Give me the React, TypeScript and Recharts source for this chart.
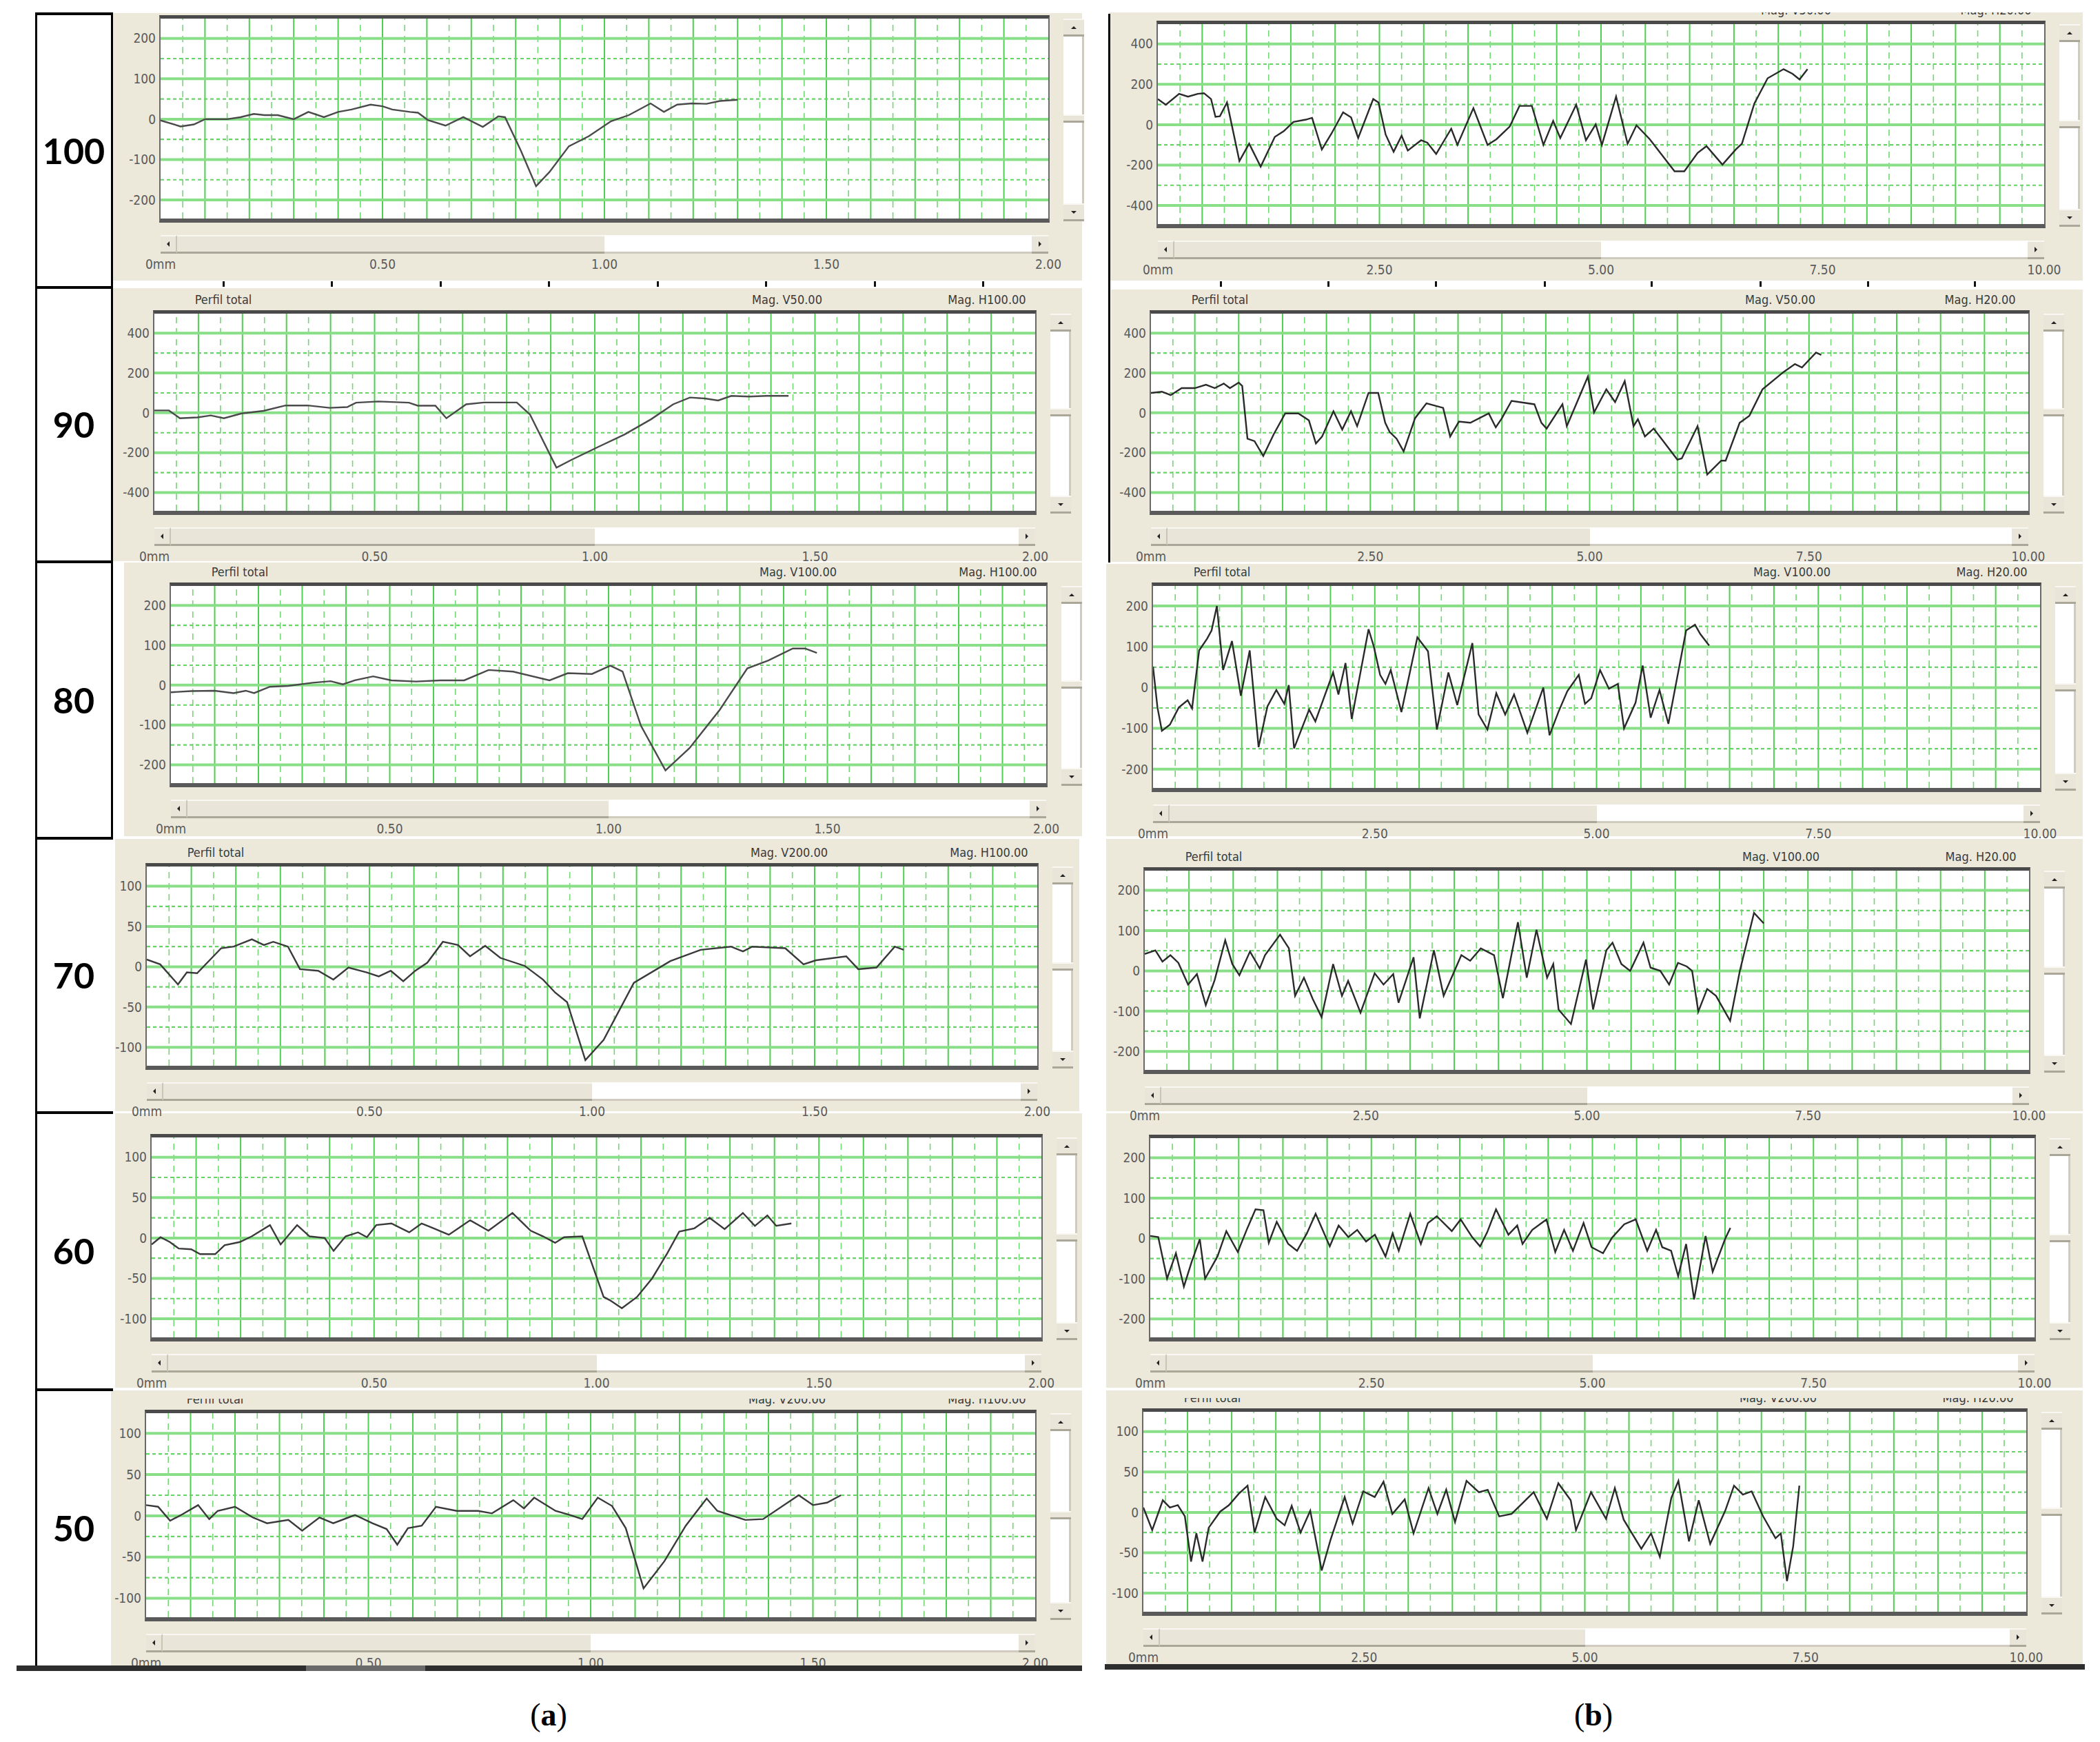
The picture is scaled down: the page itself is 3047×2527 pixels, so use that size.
import React from "react"
import { LineChart, Line, XAxis, YAxis, ReferenceLine } from "recharts"

type Pt = [number, number]

// (a) profiles: position (mm) / height, 0–2 mm scans
const a100: Pt[] = [
  [0, -3], [0.045, -18], [0.075, -13], [0.1, 0], [0.15, 0], [0.18, 5], [0.21, 13], [0.234, 10], [0.264, 10],
  [0.3, 0], [0.333, 18], [0.368, 5], [0.4, 18], [0.43, 24], [0.473, 36], [0.5, 32], [0.522, 24], [0.562, 18],
  [0.58, 16], [0.602, -2], [0.642, -16], [0.682, 5], [0.726, -19], [0.761, 7], [0.776, 5], [0.811, -76],
  [0.846, -166], [0.876, -131], [0.92, -67], [0.965, -42], [1.015, -5], [1.055, 10], [1.104, 39], [1.134, 18],
  [1.164, 36], [1.197, 39], [1.23, 38], [1.26, 45], [1.3, 48],
]
const a90: Pt[] = [
  [0, 12], [0.033, 12], [0.058, -27], [0.098, -23], [0.128, -13], [0.158, -27], [0.198, -3], [0.248, 10],
  [0.298, 37], [0.348, 37], [0.398, 25], [0.438, 29], [0.458, 51], [0.508, 57], [0.578, 51], [0.598, 36],
  [0.638, 36], [0.663, -27], [0.708, 43], [0.748, 52], [0.823, 52], [0.853, -9], [0.913, -275], [0.948, -235],
  [1.008, -171], [1.068, -108], [1.128, -32], [1.178, 43], [1.216, 77], [1.25, 72], [1.28, 62], [1.31, 85],
  [1.35, 82], [1.39, 85], [1.44, 85],
]
const a80: Pt[] = [
  [0, -18], [0.046, -15], [0.1, -14], [0.143, -20], [0.171, -14], [0.19, -20], [0.226, -4], [0.268, -2],
  [0.324, 6], [0.365, 10], [0.393, 2], [0.42, 12], [0.462, 22], [0.504, 12], [0.56, 9], [0.615, 12], [0.67, 12],
  [0.726, 38], [0.782, 34], [0.865, 12], [0.907, 30], [0.962, 28], [1.004, 49], [1.032, 34], [1.074, -102],
  [1.13, -214], [1.185, -158], [1.254, -62], [1.317, 42], [1.365, 62], [1.421, 92], [1.449, 92], [1.476, 81],
]
const a70: Pt[] = [
  [0, 9], [0.03, 3], [0.07, -22], [0.09, -7], [0.113, -8], [0.167, 23], [0.195, 25], [0.236, 34], [0.263, 27],
  [0.284, 31], [0.317, 25], [0.344, -3], [0.385, -5], [0.419, -16], [0.453, -1], [0.494, -7], [0.521, -12],
  [0.548, -5], [0.576, -18], [0.603, -5], [0.63, 5], [0.665, 31], [0.699, 27], [0.726, 13], [0.76, 26],
  [0.794, 11], [0.849, 1], [0.89, -16], [0.917, -32], [0.944, -44], [0.985, -116], [1.026, -91], [1.094, -20],
  [1.176, 7], [1.244, 21], [1.312, 25], [1.339, 19], [1.36, 25], [1.434, 23], [1.475, 3], [1.503, 8],
  [1.571, 13], [1.598, -3], [1.639, -1], [1.68, 25], [1.7, 21],
]
const a60: Pt[] = [
  [0, -8], [0.02, 1], [0.041, -5], [0.061, -13], [0.089, -14], [0.109, -20], [0.143, -20], [0.164, -9],
  [0.198, -5], [0.225, 2], [0.266, 16], [0.29, -8], [0.327, 16], [0.355, 2], [0.389, 0], [0.409, -16],
  [0.436, 2], [0.464, 7], [0.484, 1], [0.505, 16], [0.539, 18], [0.579, 7], [0.607, 18], [0.634, 12],
  [0.668, 4], [0.716, 22], [0.757, 9], [0.811, 31], [0.852, 9], [0.88, 2], [0.907, -6], [0.927, 1], [0.968, 2],
  [1.016, -73], [1.03, -77], [1.057, -87], [1.091, -73], [1.125, -50], [1.159, -19], [1.186, 8], [1.22, 12],
  [1.254, 25], [1.288, 11], [1.329, 31], [1.356, 15], [1.384, 28], [1.404, 15], [1.438, 18],
]
const a50: Pt[] = [
  [0, 13], [0.027, 11], [0.054, -6], [0.082, 2], [0.117, 13], [0.142, -4], [0.161, 6], [0.2, 11], [0.24, -2],
  [0.272, -9], [0.32, -5], [0.351, -18], [0.39, -2], [0.421, -9], [0.47, 1], [0.509, -9], [0.541, -16],
  [0.565, -35], [0.589, -15], [0.62, -12], [0.652, 11], [0.699, 6], [0.747, 6], [0.778, 3], [0.826, 19],
  [0.85, 9], [0.873, 22], [0.921, 6], [0.953, 1], [0.981, -4], [1.016, 22], [1.048, 12], [1.079, -15],
  [1.119, -88], [1.166, -55], [1.214, -12], [1.261, 21], [1.285, 6], [1.348, -5], [1.388, -4], [1.468, 25],
  [1.5, 13], [1.532, 16], [1.563, 25],
]

// (b) profiles: position (mm) / height, 0–10 mm scans
const b100: Pt[] = [
  [0, 127], [0.09, 99], [0.24, 153], [0.34, 139], [0.45, 153], [0.52, 156], [0.6, 127], [0.65, 39], [0.7, 42],
  [0.78, 110], [0.92, -180], [1.03, -94], [1.16, -208], [1.32, -60], [1.42, -32], [1.53, 14], [1.67, 25],
  [1.74, 34], [1.85, -123], [1.96, -43], [2.09, 61], [2.18, 36], [2.26, -66], [2.43, 127], [2.49, 110],
  [2.57, -49], [2.66, -134], [2.75, -55], [2.82, -128], [2.97, -77], [3.04, -89], [3.14, -145], [3.31, -20],
  [3.38, -100], [3.56, 82], [3.72, -100], [3.82, -72], [3.97, -9], [4.08, 93], [4.22, 93], [4.35, -100],
  [4.46, 19], [4.54, -66], [4.72, 99], [4.83, -77], [4.94, 2], [5.01, -100], [5.17, 139], [5.3, -94],
  [5.4, -3], [5.55, -72], [5.83, -231], [5.94, -231], [6.09, -140], [6.19, -106], [6.37, -198], [6.52, -123],
  [6.59, -94], [6.73, 105], [6.88, 230], [7.06, 275], [7.16, 252], [7.24, 224], [7.33, 275],
]
const b90: Pt[] = [
  [0, 100], [0.125, 106], [0.225, 89], [0.35, 124], [0.5, 124], [0.627, 141], [0.727, 124], [0.83, 147],
  [0.9, 124], [1.0, 152], [1.04, 135], [1.1, -130], [1.18, -142], [1.28, -217], [1.4, -107], [1.53, -3],
  [1.68, -3], [1.8, -38], [1.88, -154], [1.95, -119], [2.08, 8], [2.18, -84], [2.28, 8], [2.35, -67],
  [2.48, 100], [2.59, 100], [2.67, -50], [2.72, -96], [2.8, -130], [2.88, -194], [3.01, -27], [3.14, 48],
  [3.33, 25], [3.41, -119], [3.51, -44], [3.64, -50], [3.85, -3], [3.93, -73], [4.0, -27], [4.11, 60],
  [4.37, 43], [4.45, -50], [4.51, -79], [4.69, 43], [4.74, -67], [4.98, 182], [5.05, 2], [5.19, 118],
  [5.29, 54], [5.4, 159], [5.5, -67], [5.55, -32], [5.63, -119], [5.73, -79], [6.0, -235], [6.05, -229],
  [6.23, -67], [6.34, -310], [6.5, -240], [6.55, -240], [6.71, -50], [6.82, -15], [6.97, 118], [7.21, 205],
  [7.34, 245], [7.42, 228], [7.58, 303], [7.64, 291],
]
const b80: Pt[] = [
  [0, 51], [0.05, -49], [0.1, -106], [0.19, -91], [0.29, -49], [0.39, -31], [0.44, -51], [0.52, 91],
  [0.61, 120], [0.66, 140], [0.72, 200], [0.79, 43], [0.89, 114], [0.99, -20], [1.09, 91], [1.19, -146],
  [1.29, -46], [1.39, -6], [1.48, -40], [1.53, 6], [1.59, -149], [1.76, -54], [1.83, -83], [2.03, 37],
  [2.09, -17], [2.17, 60], [2.24, -77], [2.43, 143], [2.49, 100], [2.56, 31], [2.62, 9], [2.68, 43],
  [2.8, -60], [2.98, 123], [3.1, 89], [3.2, -103], [3.33, 37], [3.43, -43], [3.6, 109], [3.67, -66],
  [3.77, -103], [3.87, -14], [3.97, -66], [4.07, -17], [4.22, -111], [4.4, 0], [4.47, -117], [4.57, -60],
  [4.67, -9], [4.8, 31], [4.87, -40], [4.94, -26], [5.04, 43], [5.14, -3], [5.24, 9], [5.31, -100],
  [5.44, -37], [5.52, 54], [5.61, -74], [5.71, -6], [5.81, -89], [6.01, 140], [6.11, 154], [6.17, 131],
  [6.27, 103],
]
const b70: Pt[] = [
  [0, 42], [0.12, 51], [0.2, 23], [0.29, 39], [0.38, 20], [0.49, -34], [0.59, -8], [0.69, -85], [0.79, -23],
  [0.91, 76], [0.99, 17], [1.07, -11], [1.19, 48], [1.3, 6], [1.36, 39], [1.53, 90], [1.63, 56], [1.7, -62],
  [1.8, -17], [1.9, -70], [2.0, -115], [2.13, 17], [2.23, -62], [2.3, -25], [2.44, -104], [2.6, -6],
  [2.7, -34], [2.81, -8], [2.87, -79], [3.04, 34], [3.11, -118], [3.27, 51], [3.38, -62], [3.58, 39],
  [3.68, 25], [3.8, 56], [3.95, 39], [4.05, -68], [4.22, 121], [4.32, -17], [4.43, 102], [4.55, -17],
  [4.62, 17], [4.68, -96], [4.82, -132], [4.99, 28], [5.07, -96], [5.22, 51], [5.29, 70], [5.39, 17],
  [5.49, 0], [5.64, 70], [5.72, 8], [5.83, 0], [5.93, -34], [6.03, 20], [6.13, 11], [6.19, 0], [6.26, -101],
  [6.36, -45], [6.46, -62], [6.62, -124], [6.73, 0], [6.89, 144], [7.0, 118],
]
const b60: Pt[] = [
  [0, 6], [0.09, 3], [0.19, -100], [0.29, -37], [0.38, -120], [0.47, -57], [0.56, -2], [0.62, -100],
  [0.76, -45], [0.86, 18], [0.99, -34], [1.09, 21], [1.19, 72], [1.28, 70], [1.34, -11], [1.43, 41],
  [1.56, -14], [1.66, -31], [1.77, 12], [1.87, 61], [2.03, -20], [2.13, 32], [2.24, 3], [2.34, 21],
  [2.44, -8], [2.54, 9], [2.66, -45], [2.74, 12], [2.81, -31], [2.94, 61], [3.06, -14], [3.14, 38],
  [3.24, 55], [3.41, 18], [3.51, 47], [3.64, 3], [3.73, -20], [3.81, 15], [3.91, 72], [4.05, 9], [4.15, 32],
  [4.21, -14], [4.32, 21], [4.48, 47], [4.58, -34], [4.68, 21], [4.78, -31], [4.9, 38], [4.99, -22],
  [5.12, -37], [5.22, 1], [5.36, 35], [5.49, 47], [5.62, -31], [5.72, 21], [5.79, -22], [5.89, -31],
  [5.97, -94], [6.06, -14], [6.15, -152], [6.28, 6], [6.36, -83], [6.5, -2], [6.56, 26],
]
const b50: Pt[] = [
  [0, 6], [0.1, -22], [0.22, 15], [0.3, 6], [0.39, 9], [0.47, -5], [0.54, -61], [0.6, -26], [0.67, -61],
  [0.74, -19], [0.87, 1], [0.97, 9], [1.08, 23], [1.18, 33], [1.26, -25], [1.38, 19], [1.51, -8], [1.6, -16],
  [1.68, 8], [1.78, -25], [1.89, 2], [2.02, -72], [2.12, -34], [2.28, 19], [2.37, -14], [2.49, 26],
  [2.62, 19], [2.72, 38], [2.82, -2], [2.96, 16], [3.06, -26], [3.23, 30], [3.33, -2], [3.43, 28],
  [3.53, -12], [3.66, 39], [3.8, 25], [3.9, 28], [4.03, -5], [4.17, -2], [4.3, 12], [4.42, 25], [4.57, -8],
  [4.7, 36], [4.84, 15], [4.9, -22], [5.07, 25], [5.24, -8], [5.34, 30], [5.44, -9], [5.64, -45],
  [5.75, -26], [5.85, -55], [5.98, 18], [6.06, 39], [6.18, -36], [6.29, 15], [6.42, -39], [6.59, 2],
  [6.69, 33], [6.79, 22], [6.89, 26], [7.02, -5], [7.16, -32], [7.22, -26], [7.29, -85], [7.36, -42],
  [7.43, 33],
]

const rowLabels = ["100", "90", "80", "70", "60", "50"]
const xTicksA = [0, 0.5, 1, 1.5, 2]
const xTicksB = [0, 2.5, 5, 7.5, 10]
const yTicks50 = [100, 50, 0, -50, -100]
const yTicks100 = [200, 100, 0, -100, -200]
const yTicks200 = [400, 200, 0, -200, -400]

const BEIGE = "#ECE9DA"
const NARROW = "'Liberation Sans Narrow', 'DejaVu Sans Condensed', 'Liberation Sans', Arial, sans-serif"

interface Panel {
  data: Pt[]
  xMax: number
  xTicks: number[]
  yTicks: number[]
  magV: string
  magH: string
  plot: [number, number, number, number] // left, top, right, bottom
  row: [number, number]
  bg: [number, number]
  clip: number
  head: 0 | 1 | 2 // 0: header cropped away, 1: only Mag. labels, 2: all
  ink: string
}

const panels: Panel[] = [
  { data: a100, xMax: 2, xTicks: xTicksA, yTicks: yTicks100, magV: "Mag. V100.00", magH: "Mag. H100.00", plot: [233, 27, 1521, 317], row: [19, 407], bg: [163, 1570], clip: 19, head: 0, ink: "#4a4a4a" },
  { data: a90, xMax: 2, xTicks: xTicksA, yTicks: yTicks200, magV: "Mag. V50.00", magH: "Mag. H100.00", plot: [224, 455, 1502, 741], row: [418, 814], bg: [163, 1570], clip: 418, head: 2, ink: "#4a4a4a" },
  { data: a80, xMax: 2, xTicks: xTicksA, yTicks: yTicks100, magV: "Mag. V100.00", magH: "Mag. H100.00", plot: [248, 850, 1518, 1136], row: [816, 1213], bg: [180, 1570], clip: 818, head: 2, ink: "#4a4a4a" },
  { data: a70, xMax: 2, xTicks: xTicksA, yTicks: yTicks50, magV: "Mag. V200.00", magH: "Mag. H100.00", plot: [213, 1257, 1505, 1546], row: [1217, 1612], bg: [167, 1566], clip: 1217, head: 2, ink: "#3a3a3a" },
  { data: a60, xMax: 2, xTicks: xTicksA, yTicks: yTicks50, magV: "Mag. V200.00", magH: "Mag. H100.00", plot: [220, 1650, 1511, 1940], row: [1615, 2013], bg: [167, 1570], clip: 1634, head: 0, ink: "#3a3a3a" },
  { data: a50, xMax: 2, xTicks: xTicksA, yTicks: yTicks50, magV: "Mag. V200.00", magH: "Mag. H100.00", plot: [212, 2050, 1502, 2346], row: [2017, 2416], bg: [161, 1570], clip: 2029, head: 2, ink: "#3a3a3a" },
  { data: b100, xMax: 10, xTicks: xTicksB, yTicks: yTicks200, magV: "Mag. V50.00", magH: "Mag. H20.00", plot: [1680, 35, 2966, 325], row: [18, 407], bg: [1609, 3022], clip: 18, head: 1, ink: "#2a2a2a" },
  { data: b90, xMax: 10, xTicks: xTicksB, yTicks: yTicks200, magV: "Mag. V50.00", magH: "Mag. H20.00", plot: [1670, 455, 2943, 741], row: [420, 815], bg: [1612, 3022], clip: 420, head: 2, ink: "#2a2a2a" },
  { data: b80, xMax: 10, xTicks: xTicksB, yTicks: yTicks100, magV: "Mag. V100.00", magH: "Mag. H20.00", plot: [1673, 850, 2960, 1143], row: [818, 1213], bg: [1605, 3022], clip: 820, head: 2, ink: "#2a2a2a" },
  { data: b70, xMax: 10, xTicks: xTicksB, yTicks: yTicks100, magV: "Mag. V100.00", magH: "Mag. H20.00", plot: [1661, 1263, 2944, 1552], row: [1217, 1612], bg: [1605, 3022], clip: 1217, head: 2, ink: "#2a2a2a" },
  { data: b60, xMax: 10, xTicks: xTicksB, yTicks: yTicks100, magV: "Mag. V100.00", magH: "Mag. H20.00", plot: [1669, 1651, 2952, 1940], row: [1615, 2013], bg: [1605, 3022], clip: 1636, head: 0, ink: "#2a2a2a" },
  { data: b50, xMax: 10, xTicks: xTicksB, yTicks: yTicks50, magV: "Mag. V200.00", magH: "Mag. H20.00", plot: [1659, 2048, 2940, 2338], row: [2017, 2416], bg: [1605, 3022], clip: 2028, head: 2, ink: "#2a2a2a" },
]

// label column and ruler strip
const rowEdges = [19, 416, 814, 1215, 1613, 2015, 2416]
const rulerTicks = [323, 480, 638, 795, 953, 1110, 1268, 1425, 1770, 1926, 2082, 2240, 2395, 2553, 2709, 2864]

const Y_W = 70
const X_H = 90
const M_R = 40

function XTick(props: any) {
  const { x, payload, labelY } = props
  const v = payload.value as number
  return (
    <text x={x} y={labelY} textAnchor="middle" fill="#5a5a5a" fontSize={19} fontFamily={NARROW}>
      {v === 0 ? "0mm" : v.toFixed(2)}
    </text>
  )
}

function Arrow({ dir }: { dir: "l" | "r" | "u" | "d" }) {
  const s = 4
  const t = "transparent"
  const style: React.CSSProperties = { position: "absolute", left: "50%", top: "50%", width: 0, height: 0, transform: "translate(-50%,-50%)" }
  if (dir === "l") Object.assign(style, { borderTop: `${s}px solid ${t}`, borderBottom: `${s}px solid ${t}`, borderRight: `${s}px solid #222` })
  if (dir === "r") Object.assign(style, { borderTop: `${s}px solid ${t}`, borderBottom: `${s}px solid ${t}`, borderLeft: `${s}px solid #222` })
  if (dir === "u") Object.assign(style, { borderLeft: `${s}px solid ${t}`, borderRight: `${s}px solid ${t}`, borderBottom: `${s}px solid #222` })
  if (dir === "d") Object.assign(style, { borderLeft: `${s}px solid ${t}`, borderRight: `${s}px solid ${t}`, borderTop: `${s}px solid #222` })
  return <div style={style} />
}

const btn: React.CSSProperties = {
  position: "absolute",
  background: "#e9e6d9",
  borderTop: "2px solid #f8f7f2",
  borderBottom: "3px solid #aaa799",
  boxSizing: "border-box",
}

function PanelBack({ p }: { p: Panel }) {
  return <div style={{ position: "absolute", left: p.bg[0], top: p.row[0], width: p.bg[1] - p.bg[0], height: p.row[1] - p.row[0], background: BEIGE }} />
}

function ProfilePanel({ p }: { p: Panel }) {
  const [pl, pt, pr, pb] = p.plot
  const w = pr - pl
  const h = pb - pt
  const step = p.yTicks[0] - p.yTicks[1]
  const xStep = p.xMax / 20
  const rows = p.data.map(([x, y]) => ({ x, y }))
  const vMajor = Array.from({ length: 19 }, (_, i) => +((i + 1) * xStep).toFixed(3))
  const vMinor = Array.from({ length: 20 }, (_, i) => +((i + 0.5) * xStep).toFixed(3))
  const hMinor = [1.5, 0.5, -0.5, -1.5].map((k) => k * step)
  const head: React.CSSProperties = { position: "absolute", top: pt - 21 - p.clip, transform: "translate(-50%,-50%)", fontFamily: NARROW, fontSize: 18, color: "#3a3a3a", whiteSpace: "nowrap" }

  return (
    <>
      {p.head > 0 && (
        <div style={{ position: "absolute", left: 0, top: p.clip, width: 3047, height: pt - p.clip - 4, overflow: "hidden" }}>
          {p.head > 1 && <span style={{ ...head, left: pl + 100 }}>Perfil total</span>}
          <span style={{ ...head, left: pr - 360 }}>{p.magV}</span>
          <span style={{ ...head, left: pr - 70 }}>{p.magH}</span>
        </div>
      )}

      {/* horizontal scrollbar */}
      <div style={{ position: "absolute", left: pl, top: pb + 24, width: w, height: 27, background: "#fff", borderBottom: "3px solid #cfccbf", boxSizing: "border-box" }}>
        <div style={{ ...btn, left: 0, top: 0, width: w / 2, height: 27 }} />
        <div style={{ ...btn, left: 0, top: 0, width: 24, height: 27, borderRight: "2px solid #c9c6b8" }}><Arrow dir="l" /></div>
        <div style={{ ...btn, right: 0, top: 0, width: 24, height: 27 }}><Arrow dir="r" /></div>
      </div>

      {/* vertical scrollbar */}
      <div style={{ position: "absolute", left: pr + 22, top: pt, width: 30, height: h + 4, background: "#fff", borderRight: "3px solid #cfccbf", boxSizing: "border-box" }}>
        <div style={{ ...btn, left: 0, top: 0, width: 30, height: 26 }}><Arrow dir="u" /></div>
        <div style={{ ...btn, left: 0, top: h / 2 - 6, width: 30, height: 12 }} />
        <div style={{ ...btn, left: 0, bottom: 0, width: 30, height: 26 }}><Arrow dir="d" /></div>
      </div>

      <div style={{ position: "absolute", left: pl, top: pt, width: w, height: h, background: "#fff" }} />
      <div style={{ position: "absolute", left: pl - Y_W, top: pt }}>
        <LineChart width={Y_W + w + M_R} height={h + X_H} data={rows} margin={{ top: 0, right: M_R, bottom: 0, left: 0 }}>
          <XAxis
            type="number"
            dataKey="x"
            domain={[0, p.xMax]}
            ticks={p.xTicks}
            interval={0}
            allowDataOverflow
            axisLine={false}
            tickLine={false}
            height={X_H}
            tick={(tp: any) => <XTick {...tp} labelY={h + 73} />}
          />
          <YAxis
            type="number"
            domain={[-2.46 * step, 2.49 * step]}
            ticks={p.yTicks}
            interval={0}
            allowDataOverflow
            axisLine={false}
            tickLine={false}
            tickSize={4}
            tickMargin={3}
            width={Y_W}
            tick={{ fill: "#5a5a5a", fontSize: 19, fontFamily: NARROW }}
          />
          {vMinor.map((v) => (
            <ReferenceLine key={`vm${v}`} x={v} stroke="#72d872" strokeWidth={1.6} strokeDasharray="9 7" />
          ))}
          {vMajor.map((v) => (
            <ReferenceLine key={`vM${v}`} x={v} stroke="#4fcf4f" strokeWidth={2} />
          ))}
          {hMinor.map((v) => (
            <ReferenceLine key={`hm${v}`} y={v} stroke="#66d366" strokeWidth={2.2} strokeDasharray="5 4" />
          ))}
          {p.yTicks.map((v) => (
            <ReferenceLine key={`hM${v}`} y={v} stroke="#88df88" strokeWidth={4} />
          ))}
          <Line type="linear" dataKey="y" stroke={p.ink} strokeWidth={2.4} dot={false} isAnimationActive={false} />
        </LineChart>
      </div>
      <div
        style={{
          position: "absolute",
          left: pl - 2,
          top: pt - 5,
          width: w + 4,
          height: h + 11,
          borderLeft: "2px solid #6a6a6a",
          borderRight: "2px solid #6a6a6a",
          borderTop: "5px solid #4a4a4a",
          borderBottom: "6px solid #5a5a5a",
          boxSizing: "border-box",
          pointerEvents: "none",
        }}
      />
    </>
  )
}

export default function App() {
  return (
    <div style={{ position: "absolute", left: 0, top: 0, width: 3047, height: 2527, background: "#fff", overflow: "hidden" }}>
      <style>{"body{margin:0}"}</style>

      {panels.map((p, i) => (
        <PanelBack key={`bg${i}`} p={p} />
      ))}

      {/* ruler strip between first and second rows */}
      <div style={{ position: "absolute", left: 163, top: 407, width: 2867, height: 11, background: "#fff" }} />
      {rulerTicks.map((x) => (
        <div key={x} style={{ position: "absolute", left: x, top: 408, width: 3, height: 8, background: "#111" }} />
      ))}

      {panels.map((p, i) => (
        <ProfilePanel key={i} p={p} />
      ))}

      {/* row label column */}
      <div style={{ position: "absolute", left: 51, top: 19, width: 3, height: 2400, background: "#000" }} />
      <div style={{ position: "absolute", left: 161, top: 19, width: 3, height: 1196, background: "#000" }} />
      <div style={{ position: "absolute", left: 1608, top: 20, width: 3, height: 796, background: "#000" }} />
      {rowEdges.slice(0, 6).map((y) => (
        <div key={y} style={{ position: "absolute", left: 51, top: y - 1, width: 113, height: 4, background: "#000" }} />
      ))}
      {rowLabels.map((t, i) => (
        <div
          key={t}
          style={{
            position: "absolute",
            left: 107,
            top: (rowEdges[i] + rowEdges[i + 1]) / 2,
            transform: "translate(-50%,-50%)",
            fontFamily: "Lato, 'Open Sans', sans-serif",
            fontWeight: 700,
            fontSize: 52,
            color: "#000",
          }}
        >
          {t}
        </div>
      ))}

      {/* bottom rules */}
      <div style={{ position: "absolute", left: 24, top: 2416, width: 1546, height: 8, background: "#2e2e2e" }} />
      <div style={{ position: "absolute", left: 444, top: 2416, width: 173, height: 8, background: "#6a6a6a" }} />
      <div style={{ position: "absolute", left: 1603, top: 2414, width: 1422, height: 8, background: "#2e2e2e" }} />

      <div style={{ position: "absolute", left: 796, top: 2487, transform: "translate(-50%,-50%)", fontFamily: "'Liberation Serif', serif", fontSize: 46 }}>
        (<b>a</b>)
      </div>
      <div style={{ position: "absolute", left: 2312, top: 2487, transform: "translate(-50%,-50%)", fontFamily: "'Liberation Serif', serif", fontSize: 46 }}>
        (<b>b</b>)
      </div>
    </div>
  )
}
